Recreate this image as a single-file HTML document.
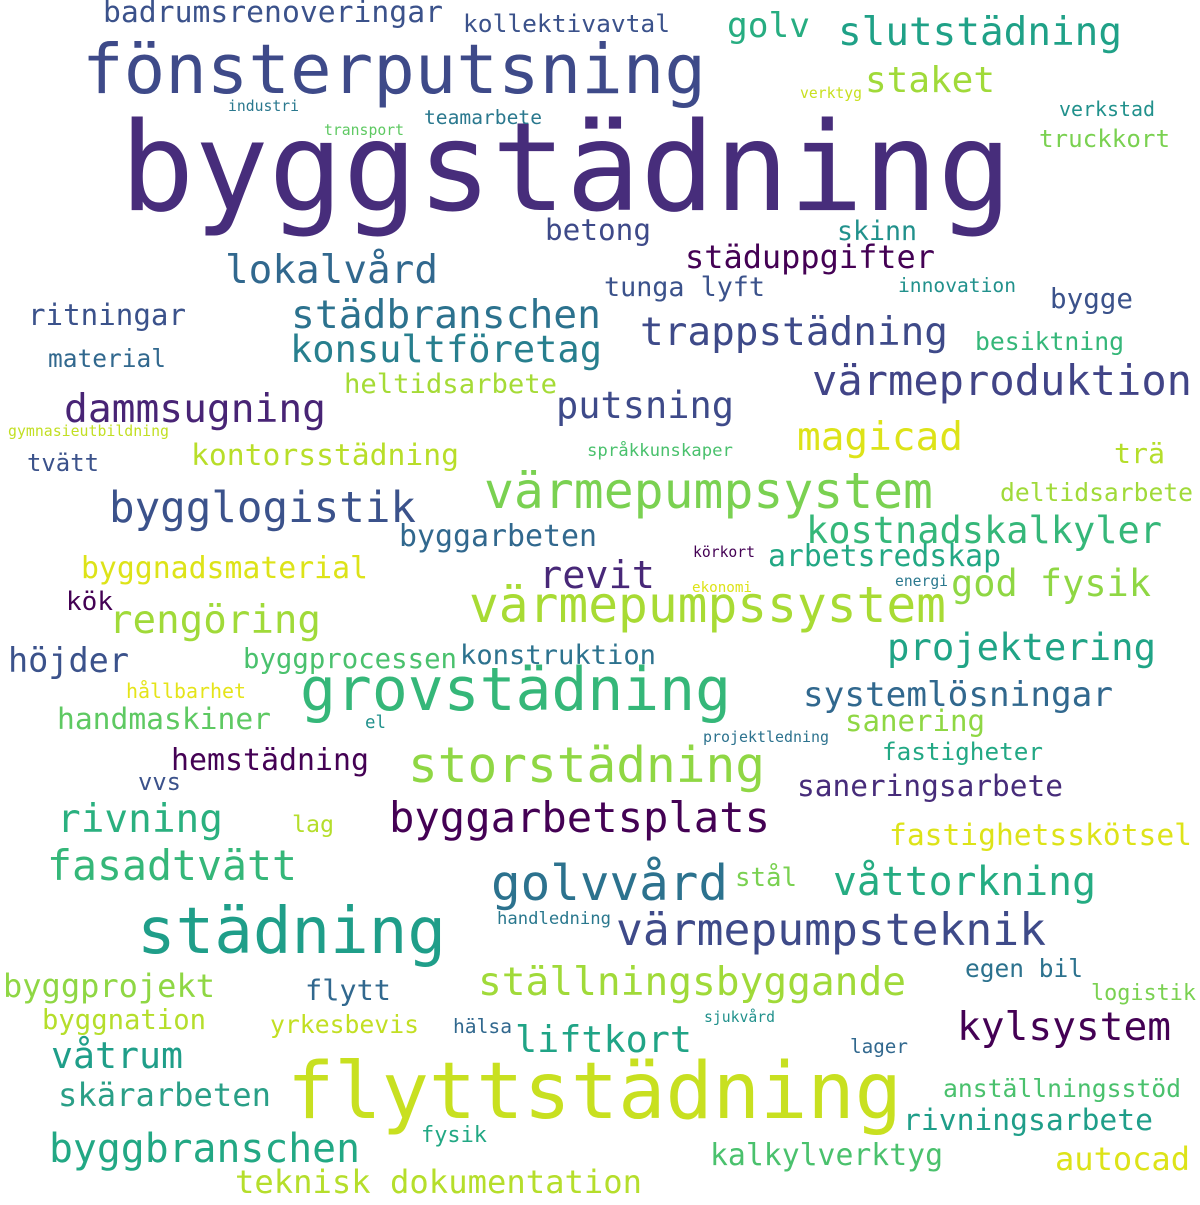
<!DOCTYPE html>
<html><head><meta charset="utf-8"><style>
html,body{margin:0;padding:0;background:#fff;}
svg text{font-family:"DejaVu Sans Mono","Liberation Mono",monospace;}
</style></head><body>
<svg width="1200" height="1200" viewBox="0 0 1200 1200" xmlns="http://www.w3.org/2000/svg">
<rect width="1200" height="1200" fill="#fff"/>
<g lengthAdjust="spacingAndGlyphs">
<text x="120" y="210" font-size="123" fill="#472d7b" textLength="892" lengthAdjust="spacingAndGlyphs">byggstädning</text>
<text x="82" y="93" font-size="69" fill="#3e4a89" textLength="624" lengthAdjust="spacingAndGlyphs">fönsterputsning</text>
<text x="103" y="22" font-size="29" fill="#3b528b" textLength="340" lengthAdjust="spacingAndGlyphs">badrumsrenoveringar</text>
<text x="463" y="32" font-size="24" fill="#3b528b" textLength="207" lengthAdjust="spacingAndGlyphs">kollektivavtal</text>
<text x="727" y="37" font-size="34" fill="#27ad81" textLength="83" lengthAdjust="spacingAndGlyphs">golv</text>
<text x="838" y="45" font-size="39" fill="#1fa187" textLength="284" lengthAdjust="spacingAndGlyphs">slutstädning</text>
<text x="865" y="92" font-size="36" fill="#a0da39" textLength="130" lengthAdjust="spacingAndGlyphs">staket</text>
<text x="800" y="98" font-size="14.7" fill="#c8e020" textLength="62" lengthAdjust="spacingAndGlyphs">verktyg</text>
<text x="228" y="111" font-size="14.7" fill="#2a788e" textLength="71" lengthAdjust="spacingAndGlyphs">industri</text>
<text x="324" y="135" font-size="14.7" fill="#5ec962" textLength="80" lengthAdjust="spacingAndGlyphs">transport</text>
<text x="424" y="124" font-size="19.6" fill="#2a788e" textLength="118" lengthAdjust="spacingAndGlyphs">teamarbete</text>
<text x="1059" y="116" font-size="20" fill="#21918c" textLength="96" lengthAdjust="spacingAndGlyphs">verkstad</text>
<text x="1039" y="147" font-size="24" fill="#7ad151" textLength="131" lengthAdjust="spacingAndGlyphs">truckkort</text>
<text x="545" y="240" font-size="29" fill="#3e4a89" textLength="106" lengthAdjust="spacingAndGlyphs">betong</text>
<text x="837" y="240" font-size="26.6" fill="#21918c" textLength="80" lengthAdjust="spacingAndGlyphs">skinn</text>
<text x="225" y="283" font-size="39" fill="#31688e" textLength="213" lengthAdjust="spacingAndGlyphs">lokalvård</text>
<text x="685" y="268" font-size="32" fill="#440154" textLength="250" lengthAdjust="spacingAndGlyphs">städuppgifter</text>
<text x="604" y="296" font-size="26.7" fill="#3b528b" textLength="161" lengthAdjust="spacingAndGlyphs">tunga lyft</text>
<text x="898" y="292" font-size="19.6" fill="#21918c" textLength="118" lengthAdjust="spacingAndGlyphs">innovation</text>
<text x="1050" y="308" font-size="27.6" fill="#3b528b" textLength="83" lengthAdjust="spacingAndGlyphs">bygge</text>
<text x="28" y="325" font-size="29" fill="#3b528b" textLength="158" lengthAdjust="spacingAndGlyphs">ritningar</text>
<text x="291" y="328" font-size="39.6" fill="#2c728e" textLength="310" lengthAdjust="spacingAndGlyphs">städbranschen</text>
<text x="640" y="345" font-size="39" fill="#3e4a89" textLength="308" lengthAdjust="spacingAndGlyphs">trappstädning</text>
<text x="290" y="362" font-size="37" fill="#277f8e" textLength="312" lengthAdjust="spacingAndGlyphs">konsultföretag</text>
<text x="975" y="350" font-size="24.7" fill="#35b779" textLength="149" lengthAdjust="spacingAndGlyphs">besiktning</text>
<text x="48" y="367" font-size="24.5" fill="#31688e" textLength="118" lengthAdjust="spacingAndGlyphs">material</text>
<text x="812" y="395" font-size="42" fill="#414487" textLength="380" lengthAdjust="spacingAndGlyphs">värmeproduktion</text>
<text x="344" y="393" font-size="27" fill="#a5db36" textLength="213" lengthAdjust="spacingAndGlyphs">heltidsarbete</text>
<text x="64" y="422" font-size="39.6" fill="#482475" textLength="262" lengthAdjust="spacingAndGlyphs">dammsugning</text>
<text x="556" y="418" font-size="37" fill="#3e4a89" textLength="178" lengthAdjust="spacingAndGlyphs">putsning</text>
<text x="797" y="450" font-size="39" fill="#dde318" textLength="166" lengthAdjust="spacingAndGlyphs">magicad</text>
<text x="8" y="436" font-size="14.8" fill="#c2df23" textLength="161" lengthAdjust="spacingAndGlyphs">gymnasieutbildning</text>
<text x="587" y="456" font-size="17.3" fill="#4ac16d" textLength="146" lengthAdjust="spacingAndGlyphs">språkkunskaper</text>
<text x="191" y="465" font-size="29.7" fill="#b8de29" textLength="268" lengthAdjust="spacingAndGlyphs">kontorsstädning</text>
<text x="1114" y="463" font-size="28" fill="#b5de2b" textLength="51" lengthAdjust="spacingAndGlyphs">trä</text>
<text x="27" y="471" font-size="24" fill="#3b528b" textLength="72" lengthAdjust="spacingAndGlyphs">tvätt</text>
<text x="484" y="508" font-size="50" fill="#7ad151" textLength="449" lengthAdjust="spacingAndGlyphs">värmepumpsystem</text>
<text x="109" y="522" font-size="42.5" fill="#3b528b" textLength="307" lengthAdjust="spacingAndGlyphs">bygglogistik</text>
<text x="1000" y="501" font-size="24.7" fill="#a0da39" textLength="193" lengthAdjust="spacingAndGlyphs">deltidsarbete</text>
<text x="806" y="543" font-size="37" fill="#35b779" textLength="356" lengthAdjust="spacingAndGlyphs">kostnadskalkyler</text>
<text x="399" y="546" font-size="30" fill="#31688e" textLength="198" lengthAdjust="spacingAndGlyphs">byggarbeten</text>
<text x="693" y="557" font-size="14.7" fill="#440154" textLength="62" lengthAdjust="spacingAndGlyphs">körkort</text>
<text x="768" y="566" font-size="29.8" fill="#22a884" textLength="233" lengthAdjust="spacingAndGlyphs">arbetsredskap</text>
<text x="81" y="578" font-size="29.8" fill="#dde318" textLength="287" lengthAdjust="spacingAndGlyphs">byggnadsmaterial</text>
<text x="539" y="588" font-size="38.5" fill="#482878" textLength="116" lengthAdjust="spacingAndGlyphs">revit</text>
<text x="692" y="592" font-size="14.3" fill="#dde318" textLength="60" lengthAdjust="spacingAndGlyphs">ekonomi</text>
<text x="895" y="586" font-size="14.7" fill="#2a788e" textLength="53" lengthAdjust="spacingAndGlyphs">energi</text>
<text x="951" y="596" font-size="37" fill="#8fd744" textLength="200" lengthAdjust="spacingAndGlyphs">god fysik</text>
<text x="66" y="610" font-size="26" fill="#440154" textLength="47" lengthAdjust="spacingAndGlyphs">kök</text>
<text x="109" y="633" font-size="39" fill="#a0da39" textLength="212" lengthAdjust="spacingAndGlyphs">rengöring</text>
<text x="469" y="622" font-size="49.5" fill="#a8db34" textLength="477" lengthAdjust="spacingAndGlyphs">värmepumpssystem</text>
<text x="887" y="660" font-size="37" fill="#20a486" textLength="269" lengthAdjust="spacingAndGlyphs">projektering</text>
<text x="8" y="672" font-size="33.5" fill="#3b528b" textLength="121" lengthAdjust="spacingAndGlyphs">höjder</text>
<text x="243" y="668" font-size="27.3" fill="#4ac16d" textLength="214" lengthAdjust="spacingAndGlyphs">byggprocessen</text>
<text x="460" y="664" font-size="27" fill="#2c728e" textLength="196" lengthAdjust="spacingAndGlyphs">konstruktion</text>
<text x="300" y="710" font-size="59.6" fill="#35b779" textLength="431" lengthAdjust="spacingAndGlyphs">grovstädning</text>
<text x="126" y="698" font-size="20" fill="#e5e419" textLength="120" lengthAdjust="spacingAndGlyphs">hållbarhet</text>
<text x="803" y="706" font-size="34" fill="#31688e" textLength="310" lengthAdjust="spacingAndGlyphs">systemlösningar</text>
<text x="57" y="729" font-size="29.6" fill="#5ec962" textLength="214" lengthAdjust="spacingAndGlyphs">handmaskiner</text>
<text x="365" y="728" font-size="17.4" fill="#21918c" textLength="21" lengthAdjust="spacingAndGlyphs">el</text>
<text x="845" y="731" font-size="29" fill="#8fd744" textLength="140" lengthAdjust="spacingAndGlyphs">sanering</text>
<text x="703" y="742" font-size="15" fill="#2c728e" textLength="126" lengthAdjust="spacingAndGlyphs">projektledning</text>
<text x="171" y="770" font-size="30" fill="#440154" textLength="198" lengthAdjust="spacingAndGlyphs">hemstädning</text>
<text x="882" y="760" font-size="24" fill="#22a884" textLength="161" lengthAdjust="spacingAndGlyphs">fastigheter</text>
<text x="408" y="782" font-size="49.4" fill="#8fd744" textLength="357" lengthAdjust="spacingAndGlyphs">storstädning</text>
<text x="138" y="790" font-size="23.8" fill="#3b528b" textLength="43" lengthAdjust="spacingAndGlyphs">vvs</text>
<text x="797" y="796" font-size="29.5" fill="#472c7a" textLength="266" lengthAdjust="spacingAndGlyphs">saneringsarbete</text>
<text x="57" y="832" font-size="39" fill="#2ab07f" textLength="166" lengthAdjust="spacingAndGlyphs">rivning</text>
<text x="292" y="832" font-size="23" fill="#b5de2b" textLength="42" lengthAdjust="spacingAndGlyphs">lag</text>
<text x="389" y="832" font-size="42" fill="#440154" textLength="381" lengthAdjust="spacingAndGlyphs">byggarbetsplats</text>
<text x="889" y="845" font-size="29.6" fill="#dde318" textLength="303" lengthAdjust="spacingAndGlyphs">fastighetsskötsel</text>
<text x="47" y="880" font-size="41.5" fill="#35b779" textLength="250" lengthAdjust="spacingAndGlyphs">fasadtvätt</text>
<text x="491" y="900" font-size="49" fill="#2c728e" textLength="237" lengthAdjust="spacingAndGlyphs">golvvård</text>
<text x="735" y="886" font-size="26" fill="#7ad151" textLength="62" lengthAdjust="spacingAndGlyphs">stål</text>
<text x="833" y="895" font-size="39.7" fill="#25ac82" textLength="263" lengthAdjust="spacingAndGlyphs">våttorkning</text>
<text x="137" y="953" font-size="64" fill="#1f9e89" textLength="309" lengthAdjust="spacingAndGlyphs">städning</text>
<text x="497" y="924" font-size="17.2" fill="#2a788e" textLength="114" lengthAdjust="spacingAndGlyphs">handledning</text>
<text x="616" y="945" font-size="44.6" fill="#3e4a89" textLength="430" lengthAdjust="spacingAndGlyphs">värmepumpsteknik</text>
<text x="3" y="997" font-size="32" fill="#8fd744" textLength="212" lengthAdjust="spacingAndGlyphs">byggprojekt</text>
<text x="305" y="1000" font-size="28.6" fill="#31688e" textLength="86" lengthAdjust="spacingAndGlyphs">flytt</text>
<text x="478" y="995" font-size="39.5" fill="#a0da39" textLength="428" lengthAdjust="spacingAndGlyphs">ställningsbyggande</text>
<text x="965" y="977" font-size="24.5" fill="#2c728e" textLength="118" lengthAdjust="spacingAndGlyphs">egen bil</text>
<text x="1091" y="1000" font-size="21.8" fill="#7ad151" textLength="105" lengthAdjust="spacingAndGlyphs">logistik</text>
<text x="42" y="1029" font-size="27.2" fill="#b5de2b" textLength="164" lengthAdjust="spacingAndGlyphs">byggnation</text>
<text x="270" y="1033" font-size="24.7" fill="#c2df23" textLength="149" lengthAdjust="spacingAndGlyphs">yrkesbevis</text>
<text x="453" y="1033" font-size="19.6" fill="#31688e" textLength="59" lengthAdjust="spacingAndGlyphs">hälsa</text>
<text x="704" y="1022" font-size="14.7" fill="#21918c" textLength="71" lengthAdjust="spacingAndGlyphs">sjukvård</text>
<text x="957" y="1040" font-size="39.5" fill="#440154" textLength="214" lengthAdjust="spacingAndGlyphs">kylsystem</text>
<text x="515" y="1052" font-size="36.8" fill="#20a486" textLength="177" lengthAdjust="spacingAndGlyphs">liftkort</text>
<text x="51" y="1068" font-size="36.5" fill="#1f9e89" textLength="132" lengthAdjust="spacingAndGlyphs">våtrum</text>
<text x="850" y="1053" font-size="19.3" fill="#31688e" textLength="58" lengthAdjust="spacingAndGlyphs">lager</text>
<text x="287" y="1118" font-size="78.6" fill="#c8e020" textLength="615" lengthAdjust="spacingAndGlyphs">flyttstädning</text>
<text x="943" y="1097" font-size="24.7" fill="#4ac16d" textLength="238" lengthAdjust="spacingAndGlyphs">anställningsstöd</text>
<text x="58" y="1106" font-size="32" fill="#2a9f87" textLength="213" lengthAdjust="spacingAndGlyphs">skärarbeten</text>
<text x="903" y="1130" font-size="29.7" fill="#1f9e89" textLength="250" lengthAdjust="spacingAndGlyphs">rivningsarbete</text>
<text x="421" y="1142" font-size="22" fill="#22a884" textLength="66" lengthAdjust="spacingAndGlyphs">fysik</text>
<text x="49" y="1162" font-size="39.7" fill="#22a884" textLength="311" lengthAdjust="spacingAndGlyphs">byggbranschen</text>
<text x="710" y="1165" font-size="29.8" fill="#4ac16d" textLength="233" lengthAdjust="spacingAndGlyphs">kalkylverktyg</text>
<text x="1055" y="1170" font-size="32" fill="#dde318" textLength="135" lengthAdjust="spacingAndGlyphs">autocad</text>
<text x="235" y="1193" font-size="32" fill="#b5de2b" textLength="407" lengthAdjust="spacingAndGlyphs">teknisk dokumentation</text>
</g>
</svg>
</body></html>
